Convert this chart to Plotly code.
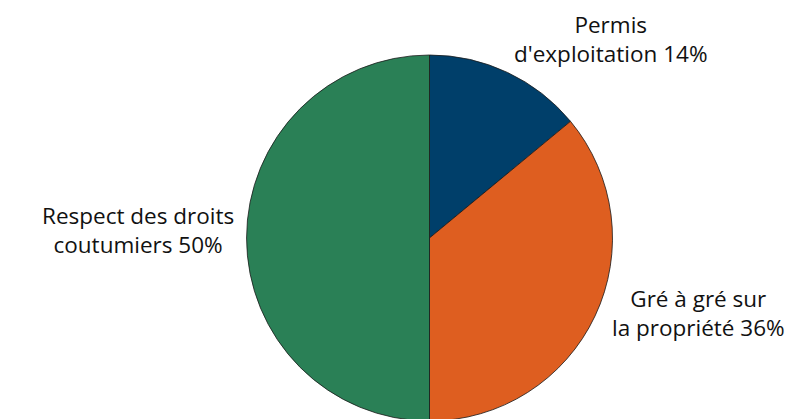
import plotly.graph_objects as go

labels = ["Permis d'exploitation", "Gré à gré sur la propriété", "Respect des droits coutumiers"]
label_lines = [["Permis", "d'exploitation"], ["Gré à gré sur", "la propriété"], ["Respect des droits", "coutumiers"]]
values = [14, 36, 50]
colors = ["#003F6A", "#DE5E20", "#2A8056"]

W, H = 800, 419
fig = go.Figure(go.Pie(
    labels=labels, values=values, sort=False, direction="clockwise", rotation=0,
    marker=dict(colors=colors, line=dict(color="#1a1a1a", width=0.8)),
    textinfo="none", hoverinfo="label+percent", showlegend=False,
    domain=dict(x=[238.5 / W, 604.5 / W], y=[5.5 / H, 372.5 / H]),
))

label_pos = [(603, 31), (690, 305), (130, 222)]
for lines, v, (px, py) in zip(label_lines, values, label_pos):
    fig.add_annotation(
        text=f"{lines[0]}<br>{lines[1]} {v}%", x=px / W, y=1 - py / H,
        xref="paper", yref="paper", xanchor="center", yanchor="middle",
        showarrow=False, align="center",
        font=dict(family="Open Sans", size=22.5, color="#111111"),
    )

fig.update_layout(width=W, height=H, margin=dict(l=0, r=0, t=0, b=0),
                  paper_bgcolor="white", plot_bgcolor="white")
fig.write_html("out.html")
